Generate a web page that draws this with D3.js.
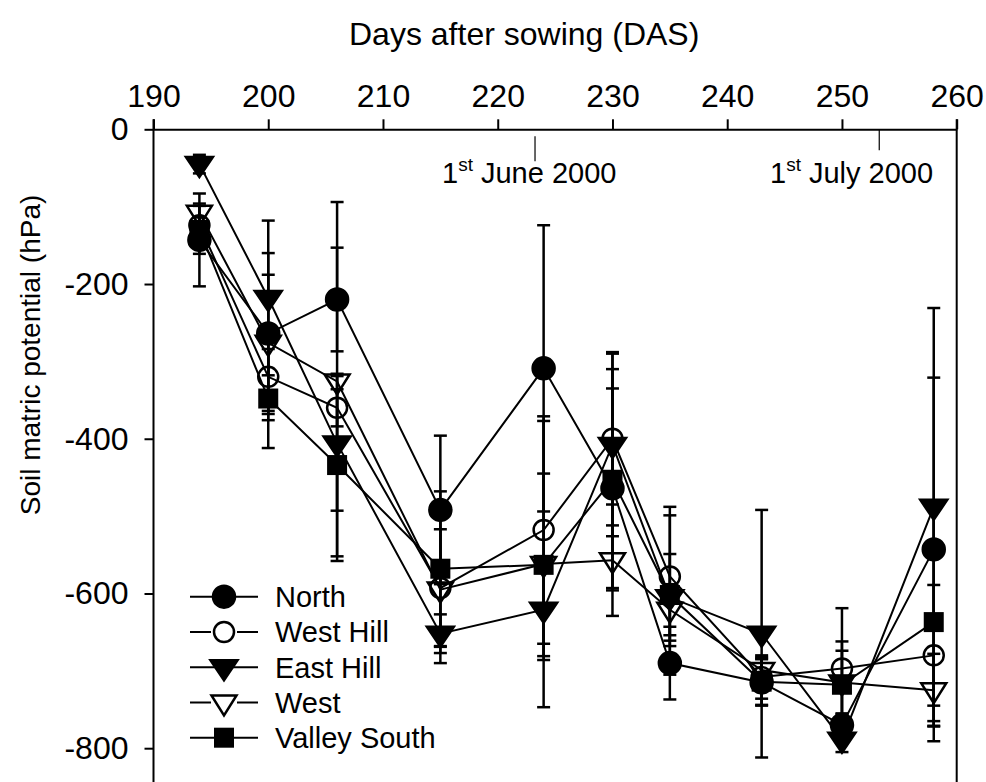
<!DOCTYPE html>
<html>
<head>
<meta charset="utf-8">
<script src="https://cdn.jsdelivr.net/npm/d3@7"></script>
<style>
  body { margin: 0; background: #fff; }
  text { font-family: Arial, "Liberation Sans", sans-serif; fill: #000; }
</style>
</head>
<body>
<svg id="chart" width="986" height="782"></svg>
<script>
// sampling days (DAS)
const days = [194, 200, 206, 215, 224, 230, 235, 243, 250, 258]

// soil matric potential (hPa) and error half-widths
const north          = [-143, -264, -220, -492, -309, -464, -690, -715, -770, -543]
const northErr       = [60, 104, 67, 96, 185, 129, 47, 30, 15, 222]
const westHill       = [-124, -320, -360, -593, -518, -400, -578, -708, -697, -680]
const westHillErr    = [10, 56, 24, 76, 147, 112, 90, 28, 78, 91]
const eastHill       = [-45, -218, -406, -652, -621, -408, -605, -652, -789, -488]
const eastHillErr    = [12, 100, 87, 25, 65, 118, 56, 160, 16, 257]
const west           = [-108, -276, -326, -595, -562, -557, -621, -699, -715, -725]
const westErr        = [12, 88, 232, 95, 185, 72, 33, 17, 41, 47]
const valleySouth    = [-130, -348, -434, -568, -563, -453, -602, -714, -718, -637]
const valleySouthErr = [31, 64, 118, 100, 118, 143, 103, 30, 56, 154]

const xTicks = [190, 200, 210, 220, 230, 240, 250, 260]
const yTicks = [0, -200, -400, -600, -800]

// 1st June / 1st July markers on the day axis
const dateMarkDays = [223.25, 253.25]
const dateMarkLabels = ["June 2000", "July 2000"]

const series = [
  { name: "North",        values: north,       err: northErr,       shape: "circle", filled: true },
  { name: "West Hill",    values: westHill,    err: westHillErr,    shape: "circle", filled: false },
  { name: "East Hill",    values: eastHill,    err: eastHillErr,    shape: "tri",    filled: true },
  { name: "West",         values: west,        err: westErr,        shape: "tri",    filled: false },
  { name: "Valley South", values: valleySouth, err: valleySouthErr, shape: "square", filled: true }
]

const width = 986
const height = 782
const svg = d3.select("#chart")

const x = d3.scaleLinear().domain([190, 260]).range([153.5, 956.7])
const y = d3.scaleLinear().domain([0, -800]).range([129.3, 748.2])

/* axes */
const xAxis = svg.append("g")
  .attr("transform", "translate(0," + y(0) + ")")
  .call(d3.axisTop(x).tickValues(xTicks).tickSize(10).tickPadding(12).tickSizeOuter(0))
xAxis.selectAll("path, line").attr("stroke", "#000").attr("stroke-width", 2)
xAxis.selectAll("text").style("font-size", "32px")

const yAxis = svg.append("g")
  .attr("transform", "translate(" + x(190) + ",0)")
  .call(d3.axisLeft(y).tickValues(yTicks).tickSize(9).tickPadding(16).tickFormat(d => String(d)))
yAxis.select(".domain").remove()
yAxis.selectAll("line").attr("stroke", "#000").attr("stroke-width", 2)
yAxis.selectAll("text").style("font-size", "32px")

// left and right frame lines run off the bottom of the picture
svg.append("line")
  .attr("x1", x(190)).attr("x2", x(190))
  .attr("y1", y(0) - 10).attr("y2", height)
  .attr("stroke", "#000").attr("stroke-width", 2)
svg.append("line")
  .attr("x1", x(260)).attr("x2", x(260))
  .attr("y1", y(0) - 10).attr("y2", height)
  .attr("stroke", "#000").attr("stroke-width", 2)

svg.append("text")
  .attr("x", 349).attr("y", 45)
  .style("font-size", "32px")
  .text("Days after sowing (DAS)")

svg.append("text")
  .attr("transform", "translate(40,355) rotate(-90)")
  .attr("text-anchor", "middle")
  .style("font-size", "28px")
  .text("Soil matric potential (hPa)")

/* date annotations */
const markTop = [y(0) + 7, y(0)]
const markBottom = [y(0) + 32, y(0) + 21]
const labelX = [442, 770]
dateMarkDays.forEach((d, i) => {
  svg.append("line")
    .attr("x1", x(d)).attr("x2", x(d))
    .attr("y1", markTop[i]).attr("y2", markBottom[i])
    .attr("stroke", "#000").attr("stroke-width", 1.2)
  const t = svg.append("text")
    .attr("x", labelX[i]).attr("y", 183)
    .style("font-size", "29px")
  t.append("tspan").text("1")
  t.append("tspan").attr("dy", -12).style("font-size", "19px").text("st")
  t.append("tspan").attr("dy", 12).text(" " + dateMarkLabels[i])
})

/* marker drawing */
function drawMarker(g, s, cx, cy) {
  const fill = s.filled ? "#000" : "none"
  if (s.shape === "circle") {
    g.append("circle").attr("cx", cx).attr("cy", cy).attr("r", s.filled ? 11 : 10)
      .attr("fill", fill).attr("stroke", "#000").attr("stroke-width", 2.5)
  } else if (s.shape === "square") {
    g.append("rect").attr("x", cx - 10).attr("y", cy - 10).attr("width", 20).attr("height", 20)
      .attr("fill", fill).attr("stroke", "none")
  } else {
    const w = s.filled ? 13.5 : 12.5
    g.append("path")
      .attr("d", `M${cx - w},${cy - 7}L${cx + w},${cy - 7}L${cx},${cy + 13}Z`)
      .attr("fill", fill).attr("stroke", "#000").attr("stroke-width", 2.5)
      .attr("stroke-linejoin", "miter")
  }
}

const line = d3.line().x((d, i) => x(days[i])).y(d => y(d))

// connecting lines
series.forEach(s => {
  svg.append("path")
    .datum(s.values)
    .attr("d", line)
    .attr("fill", "none")
    .attr("stroke", "#000")
    .attr("stroke-width", 2)
})

// error bars
series.forEach(s => {
  const g = svg.append("g").attr("stroke", "#000").attr("stroke-width", 2.5)
  s.values.forEach((v, i) => {
    const cx = x(days[i])
    const top = y(v + s.err[i])
    const bot = y(v - s.err[i])
    g.append("line").attr("x1", cx).attr("x2", cx).attr("y1", top).attr("y2", bot)
    g.append("line").attr("x1", cx - 6.5).attr("x2", cx + 6.5).attr("y1", top).attr("y2", top)
    g.append("line").attr("x1", cx - 6.5).attr("x2", cx + 6.5).attr("y1", bot).attr("y2", bot)
  })
})

// markers
series.forEach(s => {
  const g = svg.append("g")
  s.values.forEach((v, i) => drawMarker(g, s, x(days[i]), y(v)))
})

/* legend */
const legend = svg.append("g")
series.forEach((s, i) => {
  const ly = 596.7 + i * 35.25
  legend.append("line")
    .attr("x1", 190).attr("x2", 258).attr("y1", ly).attr("y2", ly)
    .attr("stroke", "#000").attr("stroke-width", 2)
  if (!s.filled) {
    legend.append("rect").attr("x", 211).attr("y", ly - 12).attr("width", 26).attr("height", 24).attr("fill", "#fff")
  }
  drawMarker(legend, s, 224, ly)
  legend.append("text")
    .attr("x", 275).attr("y", ly).attr("dy", "0.36em")
    .style("font-size", "29px")
    .text(s.name)
})
</script>
</body>
</html>
